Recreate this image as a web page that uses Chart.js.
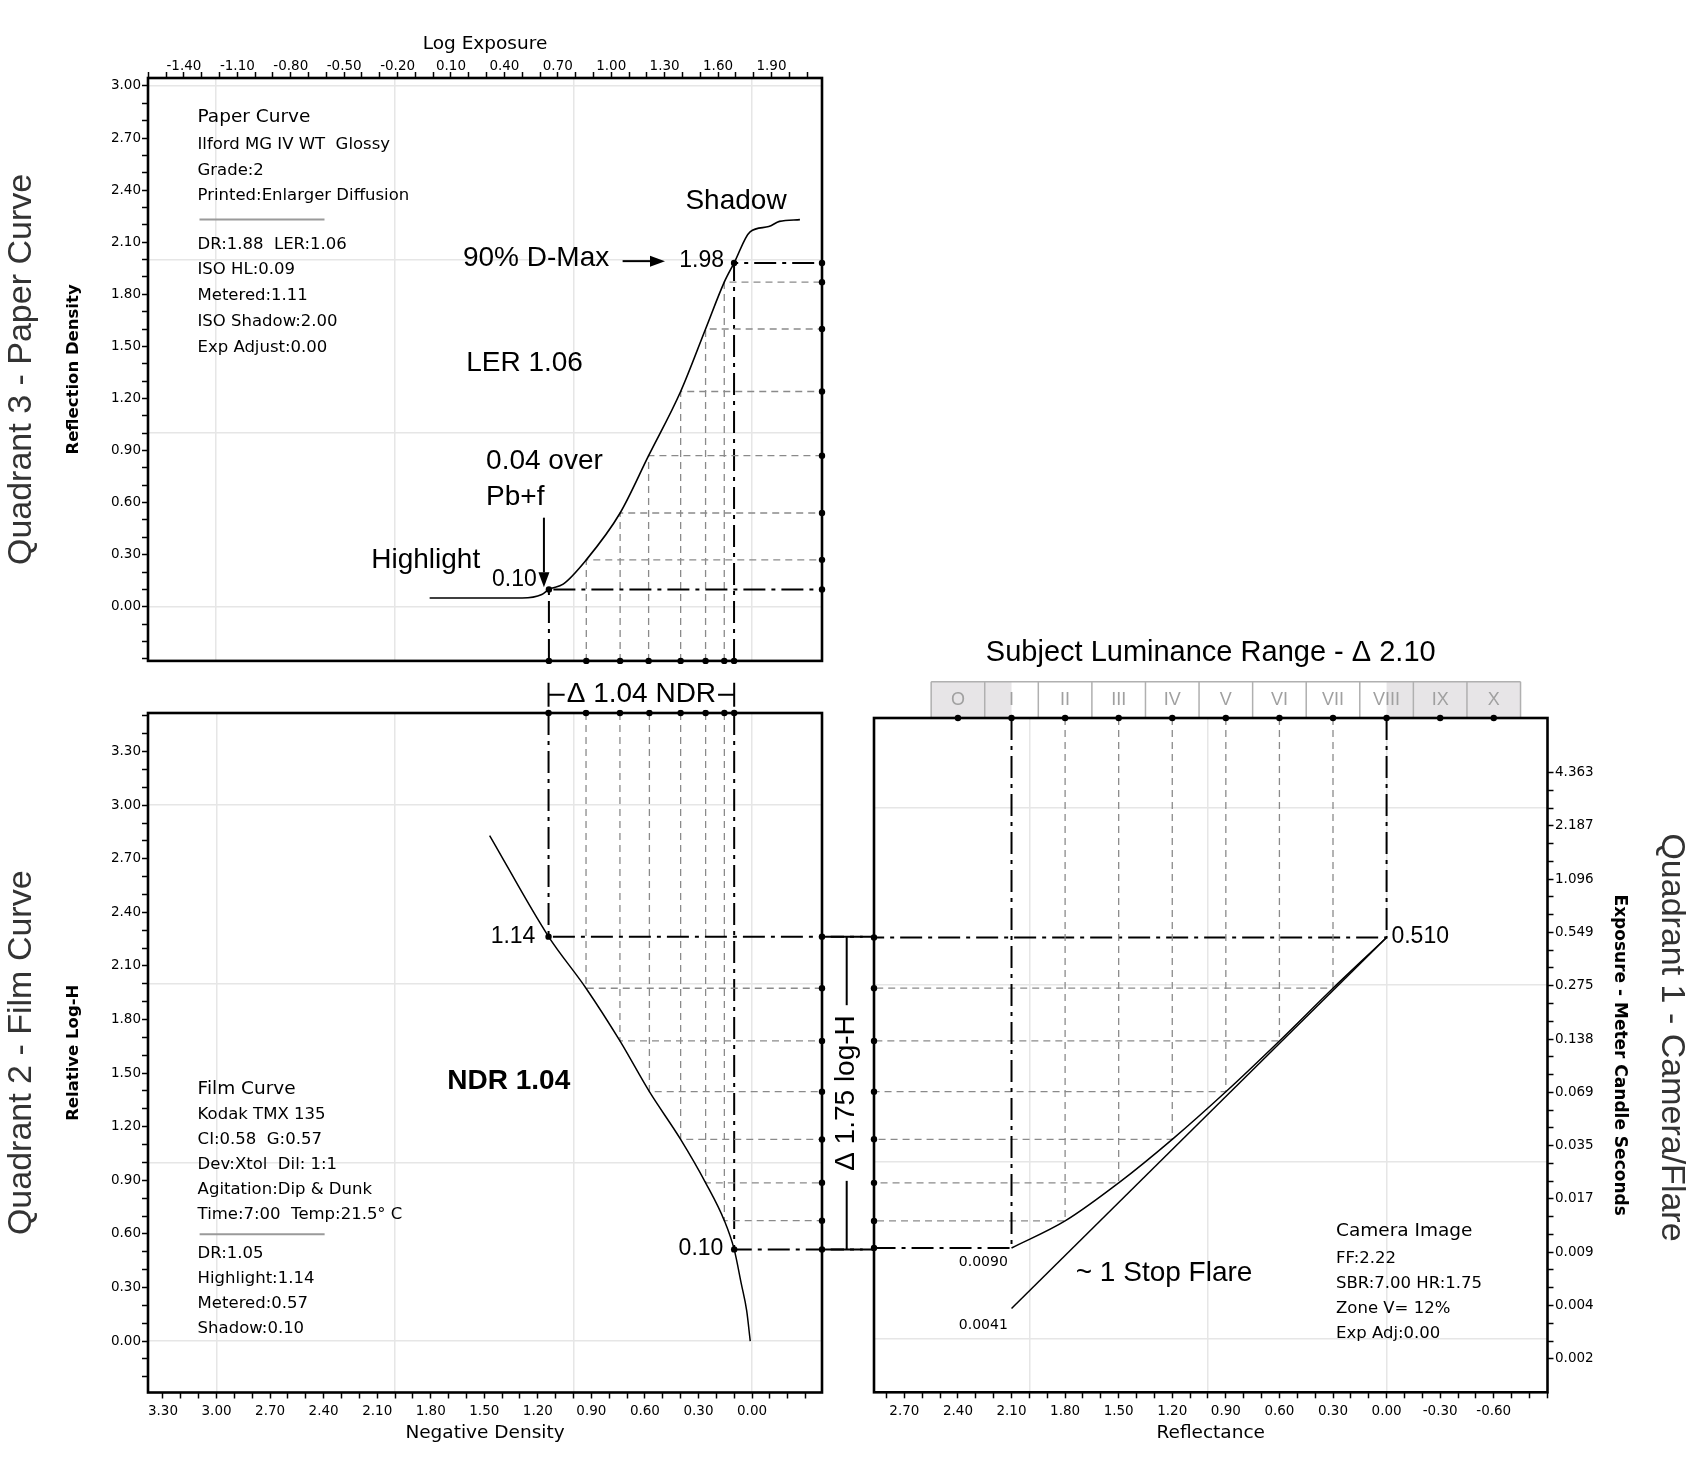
<!DOCTYPE html>
<html>
<head>
<meta charset="utf-8">
<title>Tone reproduction - four quadrant diagram</title>
<script src="https://cdn.jsdelivr.net/npm/chart.js@4.4.1/dist/chart.umd.min.js"></script>
<style>
  html, body { margin: 0; padding: 0; background: #fff; }
  body { width: 1703px; height: 1475px; position: relative; overflow: hidden; }
  canvas { position: absolute; }
</style>
</head>
<body>
<canvas id="paperChart" width="830" height="670" style="left:0px;top:0px"></canvas>
<canvas id="filmChart" width="880" height="835" style="left:0px;top:640px"></canvas>
<canvas id="cameraChart" width="839" height="875" style="left:864px;top:600px"></canvas>
<script>
// Quadrant 3 - paper curve: log exposure vs reflection density
const paperLogE = [-0.02, 0.50, 0.61, 0.65, 0.73, 0.86, 1.05, 1.21, 1.39, 1.53, 1.635, 1.69, 1.78, 1.885, 1.945, 2.06];
const paperDensity = [0.05, 0.05, 0.07, 0.10, 0.13, 0.27, 0.54, 0.87, 1.24, 1.60, 1.87, 1.98, 2.16, 2.19, 2.22, 2.23];
// projection steps (highlight first, shadow last)
const paperStepLogE = [0.65, 0.86, 1.05, 1.21, 1.39, 1.53, 1.635, 1.69];
const paperStepDensity = [0.10, 0.27, 0.54, 0.87, 1.24, 1.60, 1.87, 1.98];

// Quadrant 2 - film curve: negative density vs relative log-H
const filmDensity = [1.47, 1.14, 0.93, 0.74, 0.575, 0.40, 0.26, 0.155, 0.10, 0.06, 0.03, 0.01];
const filmLogH = [2.83, 2.264, 1.975, 1.68, 1.396, 1.129, 0.886, 0.674, 0.513, 0.32, 0.17, 0.00];
const filmStepDensity = [1.14, 0.93, 0.74, 0.575, 0.40, 0.26, 0.155, 0.10];
const filmStepLogH = [2.264, 1.975, 1.68, 1.396, 1.129, 0.886, 0.674, 0.513];

// Quadrant 1 - camera image: reflectance vs exposure (meter candle seconds)
const zoneLabels = ['O', 'I', 'II', 'III', 'IV', 'V', 'VI', 'VII', 'VIII', 'IX', 'X'];
const zoneReflectance = [2.40, 2.10, 1.80, 1.50, 1.20, 0.90, 0.60, 0.30, 0.00, -0.30, -0.60];
const cameraStepReflectance = [2.10, 1.80, 1.50, 1.20, 0.90, 0.60, 0.30, 0.00];
const flareExposure = [0.0090, 0.0128, 0.0210, 0.0370, 0.0687, 0.133, 0.264, 0.510];
const noFlareReflectance = [2.10, 0.00];
const noFlareExposure = [0.0041, 0.510];

// tick labels
const logExposureTicks = ['-1.40', '-1.10', '-0.80', '-0.50', '-0.20', '0.10', '0.40', '0.70', '1.00', '1.30', '1.60', '1.90'];
const reflDensityTicks = ['0.00', '0.30', '0.60', '0.90', '1.20', '1.50', '1.80', '2.10', '2.40', '2.70', '3.00'];
const negDensityTicks = ['3.30', '3.00', '2.70', '2.40', '2.10', '1.80', '1.50', '1.20', '0.90', '0.60', '0.30', '0.00'];
const relLogHTicks = ['0.00', '0.30', '0.60', '0.90', '1.20', '1.50', '1.80', '2.10', '2.40', '2.70', '3.00', '3.30'];
const reflectanceTicks = ['2.70', '2.40', '2.10', '1.80', '1.50', '1.20', '0.90', '0.60', '0.30', '0.00', '-0.30', '-0.60'];
const exposureTicks = ['4.363', '2.187', '1.096', '0.549', '0.275', '0.138', '0.069', '0.035', '0.017', '0.009', '0.004', '0.002'];

// light reference grid of the original program
const paperGridLogE = [-1.22, -0.215, 0.79, 1.79];
const paperGridDensity = [0, 1, 2, 3];
const filmGridDensity = [0, 1, 2, 3];
const filmGridLogH = [0, 1, 2, 3];
const cameraGridReflectance = [0, 1, 2];
const cameraGridExposure = [0.00277, 0.0277, 0.277, 2.77];

// axis ranges
const PAPER_X = { min: -1.602, max: 2.184 };
const PAPER_Y = { min: -0.312, max: 3.046 };
const FILM_X = { min: -0.392, max: 3.384 };
const FILM_Y = { min: -0.288, max: 3.516 };
const CAMERA_X = { min: -0.901, max: 2.870 };
const CAMERA_Y = { min: 0.0013785, max: 8.864 };

const UI = '"DejaVu Sans", Verdana, sans-serif';
const SANS = '"Liberation Sans", Arial, Helvetica, sans-serif';
const GRID_COLOR = '#e6e6e6';
const TICK_FONT = { size: 13.5 };
const KEY_LINE = { borderColor: '#000', borderWidth: 2, borderDash: [22, 6, 4, 6] };
const STEP_LINE = { borderColor: '#8a8a8a', borderWidth: 1.3, borderDash: [7, 5] };
const SEP = '---';

Chart.defaults.font.family = UI;
Chart.defaults.color = '#000';

// annotations (in each quadrant's own units)
const paperLabels = [
    { x: 1.701, y: 2.335, text: 'Shadow', size: 28 },
    { x: 0.578, y: 2.009, text: '90% D-Max', size: 28 },
    { x: 1.508, y: 1.991, text: '1.98', size: 23 },
    { x: 0.513, y: 1.401, text: 'LER 1.06', size: 28 },
    { x: 0.297, y: 0.838, text: '0.04 over', size: 28, align: 'left' },
    { x: 0.297, y: 0.628, text: 'Pb+f', size: 28, align: 'left' },
    { x: -0.042, y: 0.268, text: 'Highlight', size: 28 },
    { x: 0.456, y: 0.158, text: '0.10', size: 23 }
];
const paperArrows = [
    { x1: 1.064, y1: 1.991, x2: 1.302, y2: 1.991 },
    { x1: 0.622, y1: 0.513, x2: 0.622, y2: 0.112 }
];
const paperBlock = {
    x: -1.324, y: 2.821, title: 'Paper Curve',
    lines: ['Ilford MG IV WT  Glossy', 'Grade:2', 'Printed:Enlarger Diffusion', SEP,
        'DR:1.88  LER:1.06', 'ISO HL:0.09', 'Metered:1.11', 'ISO Shadow:2.00', 'Exp Adjust:0.00'],
    headGap: 27.7, lineGap: 25.7, sepBefore: 23.3, sepAfter: 25
};
const filmLabels = [
    { x: 1.339, y: 2.264, text: '1.14', size: 23 },
    { x: 1.363, y: 1.456, text: 'NDR 1.04', size: 28, weight: 'bold' },
    { x: 0.286, y: 0.515, text: '0.10', size: 23 }
];
const filmBlock = {
    x: 3.106, y: 1.409, title: 'Film Curve',
    lines: ['Kodak TMX 135', 'CI:0.58  G:0.57', 'Dev:Xtol  Dil: 1:1', 'Agitation:Dip & Dunk', 'Time:7:00  Temp:21.5° C', SEP,
        'DR:1.05', 'Highlight:1.14', 'Metered:0.57', 'Shadow:0.10'],
    headGap: 25, lineGap: 25.1, sepBefore: 19.5, sepAfter: 19.1
};
const cameraLabels = [
    { x: -0.027, y: 0.516, text: '0.510', size: 23, align: 'left' },
    { x: 2.258, y: 0.00745, text: '0.0090', size: 14, font: UI },
    { x: 2.258, y: 0.00331, text: '0.0041', size: 14, font: UI },
    { x: 1.246, y: 0.00646, text: '~ 1 Stop Flare', size: 28 }
];
const cameraBlock = {
    x: 0.283, y: 0.01123, title: 'Camera Image',
    lines: ['FF:2.22', 'SBR:7.00 HR:1.75', 'Zone V= 12%', 'Exp Adj:0.00'],
    headGap: 27.3, lineGap: 25
};

function buildTicks(labels, minor, range) {
    const lo = Math.min(range.min, range.max), hi = Math.max(range.min, range.max);
    const n = minor + 1;
    const first = Number(labels[0]);
    const step = (Number(labels[1]) - first) / n;
    const out = [];
    for (let i = -10 * n; i <= (labels.length + 10) * n; i++) {
        const v = +(first + i * step).toFixed(6);
        if (v < lo - 1e-9 || v > hi + 1e-9) continue;
        const j = i / n;
        out.push({ value: v, label: Number.isInteger(j) && j >= 0 && j < labels.length ? labels[j] : '' });
    }
    return out.sort((a, b) => a.value - b.value);
}

// exposure labels halve at every step, so ticks sit on a base-2 ladder
function buildHalvingTicks(labels, minor, range) {
    const n = minor + 1;
    const top = Number(labels[0]);
    const out = [];
    for (let t = 0; t <= (labels.length - 1) * n; t++) {
        const v = top / Math.pow(2, t / n);
        if (v < range.min || v > range.max) continue;
        out.push({ value: v, label: t % n === 0 ? labels[t / n] : '' });
    }
    return out.sort((a, b) => a.value - b.value);
}

function tickAxis(o) {
    const built = o.ticks;
    const marks = o.marks !== false;
    return {
        type: o.type || 'linear',
        axis: o.axis,
        position: o.position,
        min: o.range.min,
        max: o.range.max,
        reverse: !!o.reverse,
        bounds: 'data',
        border: { display: false },
        grid: { display: marks, drawOnChartArea: false, drawTicks: marks, tickLength: 6, tickWidth: 1.5, tickColor: '#000', color: '#000' },
        ticks: {
            autoSkip: false, maxRotation: 0, minRotation: 0,
            padding: o.pad, color: o.color || '#000', font: o.font || TICK_FONT,
            callback: (v, i) => (built[i] ? built[i].label : '')
        },
        title: o.title || { display: false },
        afterBuildTicks: (scale) => { scale.ticks = built.map(t => ({ value: t.value })); },
        afterFit: (scale) => {
            if (scale.isHorizontal()) scale.height = o.size;
            else scale.width = o.size;
        }
    };
}

function gridAxis(axis, values, range, reverse, type) {
    return {
        type: type || 'linear',
        axis,
        position: axis === 'x' ? 'bottom' : 'left',
        min: range.min,
        max: range.max,
        reverse: !!reverse,
        bounds: 'data',
        border: { display: false },
        grid: { drawTicks: false, color: GRID_COLOR, lineWidth: 1.5 },
        ticks: { display: false },
        afterBuildTicks: (scale) => { scale.ticks = values.map(v => ({ value: v })); },
        afterFit: (scale) => {
            if (scale.isHorizontal()) scale.height = 0;
            else scale.width = 0;
        }
    };
}

function axisTitle(text, font, padding) {
    return { display: true, text, color: '#000', font, padding };
}

function quadrantTitle(text, position, fullSize) {
    return {
        display: true, text, position, fullSize, color: '#333',
        font: { family: SANS, size: 34, weight: 'normal' },
        padding: position === 'right' ? { top: 2, bottom: 2 } : { top: 1, bottom: 1 }
    };
}

function baseOptions(o) {
    return {
        responsive: false,
        animation: false,
        devicePixelRatio: 1,
        events: [],
        layout: { padding: o.padding },
        plugins: {
            legend: { display: false },
            tooltip: { enabled: false },
            title: o.title,
            subtitle: o.subtitle || { display: false }
        },
        scales: o.scales
    };
}

function curveSet(xs, ys, width) {
    return {
        data: xs.map((x, i) => ({ x, y: ys[i] })),
        showLine: true, borderColor: '#000', backgroundColor: '#000', borderWidth: width || 1.5,
        pointRadius: 0, cubicInterpolationMode: 'monotone', fill: false
    };
}

function dotSet(points) {
    return {
        data: points, showLine: false, pointRadius: 3.2,
        pointBackgroundColor: '#000', backgroundColor: '#000', pointBorderWidth: 0, clip: false
    };
}

// one L-shaped guide per step: from the frame edge to the curve and on to the other edge
function guideSets(xs, ys, xEdge, yEdge) {
    return xs.map((x, i) => {
        const key = i === 0 || i === xs.length - 1;
        const style = key ? KEY_LINE : STEP_LINE;
        return {
            data: [{ x, y: yEdge }, { x, y: ys[i] }, { x: xEdge, y: ys[i] }],
            showLine: true, pointRadius: 0, fill: false,
            borderColor: style.borderColor, backgroundColor: style.borderColor,
            borderWidth: style.borderWidth, borderDash: style.borderDash
        };
    });
}

function drawLabel(ctx, px, py, t) {
    ctx.save();
    ctx.font = `${t.weight || 'normal'} ${t.size}px ${t.font || SANS}`;
    ctx.fillStyle = '#000';
    ctx.textAlign = t.align || 'center';
    ctx.textBaseline = 'middle';
    ctx.fillText(t.text, px, py);
    ctx.restore();
}

function drawArrow(ctx, x1, y1, x2, y2) {
    const ang = Math.atan2(y2 - y1, x2 - x1);
    const head = 15, half = 5.5;
    const bx = x2 - head * Math.cos(ang), by = y2 - head * Math.sin(ang);
    ctx.save();
    ctx.strokeStyle = '#000';
    ctx.fillStyle = '#000';
    ctx.lineWidth = 2;
    ctx.beginPath();
    ctx.moveTo(x1, y1);
    ctx.lineTo(bx, by);
    ctx.stroke();
    ctx.beginPath();
    ctx.moveTo(x2, y2);
    ctx.lineTo(bx + half * Math.sin(ang), by - half * Math.cos(ang));
    ctx.lineTo(bx - half * Math.sin(ang), by + half * Math.cos(ang));
    ctx.closePath();
    ctx.fill();
    ctx.restore();
}

function drawBlock(ctx, left, top, b) {
    ctx.save();
    ctx.fillStyle = '#000';
    ctx.textAlign = 'left';
    ctx.textBaseline = 'middle';
    ctx.font = `18.5px ${UI}`;
    ctx.fillText(b.title, left, top);
    ctx.font = `16.5px ${UI}`;
    let y = top + b.headGap;
    b.lines.forEach(line => {
        if (line === SEP) {
            const ys = y - b.lineGap + b.sepBefore;
            ctx.strokeStyle = '#9a9a9a';
            ctx.lineWidth = 2;
            ctx.beginPath();
            ctx.moveTo(left + 2, ys);
            ctx.lineTo(left + 127, ys);
            ctx.stroke();
            y = ys + b.sepAfter;
        } else {
            ctx.fillText(line, left, y);
            y += b.lineGap;
        }
    });
    ctx.restore();
}

function drawBracket(ctx, x1, y1, x2, y2, cap, text, rot, gap) {
    ctx.save();
    ctx.strokeStyle = '#000';
    ctx.lineWidth = 2;
    ctx.setLineDash([]);
    ctx.beginPath();
    ctx.moveTo(x1, y1);
    ctx.lineTo(x2, y2);
    if (x1 === x2) {
        ctx.moveTo(x1 - cap, y1); ctx.lineTo(x1 + cap, y1);
        ctx.moveTo(x2 - cap, y2); ctx.lineTo(x2 + cap, y2);
    } else {
        ctx.moveTo(x1, y1 - cap); ctx.lineTo(x1, y1 + cap);
        ctx.moveTo(x2, y2 - cap); ctx.lineTo(x2, y2 + cap);
    }
    ctx.stroke();
    ctx.translate((x1 + x2) / 2, (y1 + y2) / 2);
    ctx.rotate(rot);
    ctx.font = `28px ${SANS}`;
    const w = ctx.measureText(text).width;
    ctx.fillStyle = '#fff';
    ctx.fillRect(-w / 2 - gap, -15, w + gap * 2, 30);
    ctx.fillStyle = '#000';
    ctx.textAlign = 'center';
    ctx.textBaseline = 'middle';
    ctx.fillText(text, 0, 0);
    ctx.restore();
}

function overlay(spec) {
    return {
        id: 'overlay',
        beforeDraw(chart) {
            if (spec.under) spec.under(chart);
        },
        beforeDatasetsDraw(chart) {
            const { ctx, chartArea: a } = chart;
            ctx.save();
            ctx.strokeStyle = '#000';
            ctx.lineWidth = 2.6;
            ctx.strokeRect(a.left, a.top, a.right - a.left, a.bottom - a.top);
            ctx.restore();
        },
        afterDatasetsDraw(chart) {
            const { ctx, scales: { x, y } } = chart;
            if (spec.block) drawBlock(ctx, x.getPixelForValue(spec.block.x), y.getPixelForValue(spec.block.y), spec.block);
            (spec.labels || []).forEach(t => drawLabel(ctx, x.getPixelForValue(t.x), y.getPixelForValue(t.y), t));
            (spec.arrows || []).forEach(r => drawArrow(ctx,
                x.getPixelForValue(r.x1), y.getPixelForValue(r.y1),
                x.getPixelForValue(r.x2), y.getPixelForValue(r.y2)));
            if (spec.over) spec.over(chart);
        }
    };
}

// gaps between the quadrant frames (page pixels)
const GAP_TO_CAMERA = 52;
const NDR_BRACKET_OFFSET = 18.3;
const LOGH_BRACKET_OFFSET = 24.7;
const STRIP_HEIGHT = 36.3;

function drawFilmConnections(chart) {
    const { ctx, chartArea: a, scales: { x, y } } = chart;
    const last = filmStepDensity.length - 1;
    const hx = x.getPixelForValue(filmStepDensity[0]);
    const sx = x.getPixelForValue(filmStepDensity[last]);
    const hy = y.getPixelForValue(filmStepLogH[0]);
    const sy = y.getPixelForValue(filmStepLogH[last]);
    ctx.save();
    ctx.strokeStyle = '#000';
    ctx.lineWidth = KEY_LINE.borderWidth;
    ctx.setLineDash(KEY_LINE.borderDash);
    [hy, sy].forEach(py => {
        ctx.beginPath();
        ctx.moveTo(a.right, py);
        ctx.lineTo(a.right + GAP_TO_CAMERA, py);
        ctx.stroke();
    });
    ctx.restore();
    drawBracket(ctx, hx, a.top - NDR_BRACKET_OFFSET, sx, a.top - NDR_BRACKET_OFFSET, 12, 'Δ 1.04 NDR', 0, 2);
    const bx = a.right + LOGH_BRACKET_OFFSET;
    drawBracket(ctx, bx, hy, bx, sy, 16, 'Δ 1.75 log-H', -Math.PI / 2, 10);
}

function drawZoneStrip(chart) {
    const { ctx, chartArea: a, scales: { x } } = chart;
    const half = (zoneReflectance[0] - zoneReflectance[1]) / 2;
    const left = x.getPixelForValue(zoneReflectance[0] + half);
    const right = x.getPixelForValue(zoneReflectance[zoneReflectance.length - 1] - half);
    const top = a.top - STRIP_HEIGHT;
    const w0 = x.getPixelForValue(cameraStepReflectance[0]);
    const w1 = x.getPixelForValue(cameraStepReflectance[cameraStepReflectance.length - 1]);
    ctx.save();
    ctx.fillStyle = '#e7e5e7';
    ctx.fillRect(left, top, right - left, STRIP_HEIGHT);
    ctx.fillStyle = '#fff';
    ctx.fillRect(w0, top, w1 - w0, STRIP_HEIGHT);
    ctx.strokeStyle = '#b0b0b0';
    ctx.lineWidth = 1.5;
    ctx.beginPath();
    zoneReflectance.forEach(r => {
        const p = x.getPixelForValue(r + half);
        ctx.moveTo(p, top);
        ctx.lineTo(p, a.top);
    });
    ctx.moveTo(right, top);
    ctx.lineTo(right, a.top);
    ctx.moveTo(left, top);
    ctx.lineTo(right, top);
    ctx.stroke();
    ctx.restore();
}

const lastStep = paperStepLogE.length - 1;

// ---------------- Quadrant 3 ----------------
new Chart(document.getElementById('paperChart'), {
    type: 'scatter',
    data: {
        datasets: [
            dotSet([
                ...paperStepLogE.map(x => ({ x, y: PAPER_Y.min })),
                ...paperStepDensity.map(y => ({ x: PAPER_X.max, y })),
                { x: paperStepLogE[0], y: paperStepDensity[0] },
                { x: paperStepLogE[lastStep], y: paperStepDensity[lastStep] }
            ]),
            curveSet(paperLogE, paperDensity, 1.6),
            ...guideSets(paperStepLogE, paperStepDensity, PAPER_X.max, PAPER_Y.min)
        ]
    },
    options: baseOptions({
        padding: { left: 0, top: 0, right: 8, bottom: 6 },
        title: quadrantTitle('Quadrant 3 - Paper Curve', 'left', false),
        scales: {
            x: tickAxis({
                axis: 'x', position: 'top', range: PAPER_X, ticks: buildTicks(logExposureTicks, 2, PAPER_X),
                size: 78, pad: -2.5,
                title: axisTitle('Log Exposure', { family: UI, size: 18.5 }, { top: 33.4, bottom: 0 })
            }),
            y: tickAxis({
                axis: 'y', position: 'left', range: PAPER_Y, ticks: buildTicks(reflDensityTicks, 2, PAPER_Y),
                size: 105.2, pad: 1,
                title: axisTitle('Reflection Density', { family: UI, size: 16.5, weight: 'bold' }, { top: 20.8, bottom: 0 })
            }),
            gx: gridAxis('x', paperGridLogE, PAPER_X),
            gy: gridAxis('y', paperGridDensity, PAPER_Y)
        }
    }),
    plugins: [overlay({ labels: paperLabels, arrows: paperArrows, block: paperBlock })]
});

// ---------------- Quadrant 2 ----------------
new Chart(document.getElementById('filmChart'), {
    type: 'scatter',
    data: {
        datasets: [
            dotSet([
                ...filmStepDensity.map(x => ({ x, y: FILM_Y.max })),
                ...filmStepLogH.map(y => ({ x: FILM_X.min, y })),
                { x: filmStepDensity[0], y: filmStepLogH[0] },
                { x: filmStepDensity[lastStep], y: filmStepLogH[lastStep] }
            ]),
            curveSet(filmDensity, filmLogH, 1.5),
            ...guideSets(filmStepDensity, filmStepLogH, FILM_X.min, FILM_Y.max)
        ]
    },
    options: baseOptions({
        padding: { left: 0, top: 73, right: 58, bottom: 0 },
        title: quadrantTitle('Quadrant 2 - Film Curve', 'left', false),
        scales: {
            x: tickAxis({
                axis: 'x', position: 'bottom', range: FILM_X, reverse: true, ticks: buildTicks(negDensityTicks, 2, FILM_X),
                size: 82.5, pad: 5.2,
                title: axisTitle('Negative Density', { family: UI, size: 18.5 }, { top: 0, bottom: 30.6 })
            }),
            y: tickAxis({
                axis: 'y', position: 'left', range: FILM_Y, ticks: buildTicks(relLogHTicks, 2, FILM_Y),
                size: 105.2, pad: 1,
                title: axisTitle('Relative Log-H', { family: UI, size: 16.5, weight: 'bold' }, { top: 20.8, bottom: 0 })
            }),
            gx: gridAxis('x', filmGridDensity, FILM_X, true),
            gy: gridAxis('y', filmGridLogH, FILM_Y)
        }
    }),
    plugins: [overlay({ labels: filmLabels, block: filmBlock, over: drawFilmConnections })]
});

// ---------------- Quadrant 1 ----------------
const zoneTicks = zoneReflectance.map((r, i) => ({ value: r, label: zoneLabels[i] })).sort((a, b) => a.value - b.value);

new Chart(document.getElementById('cameraChart'), {
    type: 'scatter',
    data: {
        datasets: [
            dotSet([
                ...flareExposure.map(y => ({ x: CAMERA_X.max, y })),
                ...zoneReflectance.map(x => ({ x, y: CAMERA_Y.max }))
            ]),
            curveSet(cameraStepReflectance, flareExposure, 1.5),
            curveSet(noFlareReflectance, noFlareExposure, 1.5),
            ...guideSets(cameraStepReflectance, flareExposure, CAMERA_X.max, CAMERA_Y.max)
        ]
    },
    options: baseOptions({
        padding: { left: 10, top: 0, right: 9, bottom: 0 },
        title: quadrantTitle('Quadrant 1 - Camera/Flare', 'right', true),
        subtitle: {
            display: true, position: 'top', fullSize: false, text: 'Subject Luminance Range - Δ 2.10',
            color: '#000', font: { family: SANS, size: 29, weight: 'normal' }, padding: { top: 35.9, bottom: 2 }
        },
        scales: {
            x: tickAxis({
                axis: 'x', position: 'bottom', range: CAMERA_X, reverse: true, ticks: buildTicks(reflectanceTicks, 2, CAMERA_X),
                size: 82.7, pad: 5.3,
                title: axisTitle('Reflectance', { family: UI, size: 18.5 }, { top: 0, bottom: 30.6 })
            }),
            xz: tickAxis({
                axis: 'x', position: 'top', range: CAMERA_X, reverse: true, ticks: zoneTicks, marks: false,
                size: 45.3, pad: 7.2, color: '#a0a0a0', font: { family: SANS, size: 18 }
            }),
            y: tickAxis({
                type: 'logarithmic', axis: 'y', position: 'right', range: CAMERA_Y,
                ticks: buildHalvingTicks(exposureTicks, 2, CAMERA_Y),
                size: 101.7, pad: 1.5,
                title: axisTitle('Exposure - Meter Candle Seconds', { family: UI, size: 17, weight: 'bold' }, { top: 19.1, bottom: 0 })
            }),
            gx: gridAxis('x', cameraGridReflectance, CAMERA_X, true),
            gy: gridAxis('y', cameraGridExposure, CAMERA_Y, false, 'logarithmic')
        }
    }),
    plugins: [overlay({ labels: cameraLabels, block: cameraBlock, under: drawZoneStrip })]
});
</script>
</body>
</html>
